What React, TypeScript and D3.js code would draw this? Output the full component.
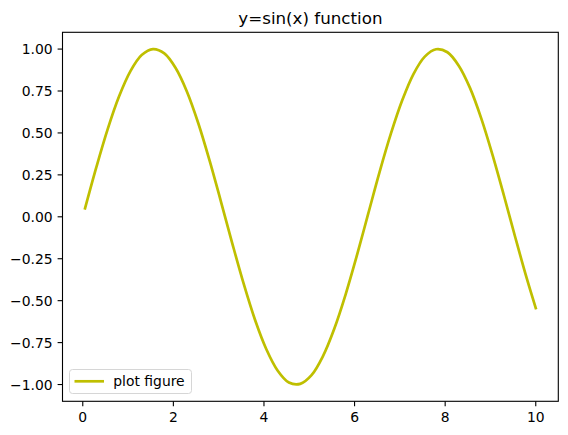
import React from "react";
import * as d3 from "d3";

const xValues = [0.05, 0.3, 0.55, 0.8, 1.05, 1.3, 1.55, 1.8, 2.05, 2.3, 2.55, 2.8, 3.05, 3.3, 3.55, 3.8, 4.05, 4.3, 4.55, 4.8, 5.05, 5.3, 5.55, 5.8, 6.05, 6.3, 6.55, 6.8, 7.05, 7.3, 7.55, 7.8, 8.05, 8.3, 8.55, 8.8, 9.05, 9.3, 9.55, 9.8, 10.0];
const yValues = [0.05, 0.296, 0.523, 0.717, 0.867, 0.964, 1.0, 0.974, 0.887, 0.746, 0.558, 0.335, 0.091, -0.158, -0.397, -0.612, -0.788, -0.916, -0.988, -0.996, -0.944, -0.832, -0.669, -0.465, -0.232, 0.017, 0.265, 0.494, 0.693, 0.851, 0.955, 0.999, 0.981, 0.901, 0.767, 0.584, 0.365, 0.124, -0.125, -0.366, -0.544];
const xTicks = [0, 2, 4, 6, 8, 10];
const yTicks = [-1.0, -0.75, -0.5, -0.25, 0.0, 0.25, 0.5, 0.75, 1.0];
const title = "y=sin(x) function";
const legendLabel = "plot figure";

const W = 568, H = 435;
const L = 62.5, R = 558.3, T = 32.3, B = 401.3;
const FONT = "DejaVu Sans, sans-serif";
const COLOR = "#bfbf00";

export default function App() {
  const x = d3.scaleLinear().domain([-0.4475, 10.4975]).range([L, R]);
  const y = d3.scaleLinear().domain([-1.1, 1.1]).range([B, T]);
  const pts = xValues.map((v, i) => [v, yValues[i]] as [number, number]);
  const line = d3.line<[number, number]>().x(d => x(d[0])).y(d => y(d[1])).curve(d3.curveCatmullRom.alpha(0.5));
  const fmt = (v: number) => (v < 0 ? "\u2212" : "") + Math.abs(v).toFixed(2);
  return (
    <svg width={W} height={H} style={{ position: "absolute", left: 0, top: 0, background: "#fff" }}>
      <rect x={0} y={0} width={W} height={H} fill="#fff" />
      <text x={(L + R) / 2} y={24} textAnchor="middle" fontFamily={FONT} fontSize={16.7} fill="#000">{title}</text>
      <path d={line(pts) || ""} fill="none" stroke={COLOR} strokeWidth={2.7} strokeLinejoin="round" strokeLinecap="square" />
      {xTicks.map(t => (
        <g key={"x" + t}>
          <line x1={x(t)} x2={x(t)} y1={B} y2={B + 4.9} stroke="#000" strokeWidth={1.1} />
          <text x={x(t)} y={B + 4.9 + 4.9 + 10.8} textAnchor="middle" fontFamily={FONT} fontSize={13.9} fill="#000">{String(t)}</text>
        </g>
      ))}
      {yTicks.map(t => (
        <g key={"y" + t}>
          <line x1={L - 4.9} x2={L} y1={y(t)} y2={y(t)} stroke="#000" strokeWidth={1.1} />
          <text x={L - 9.8} y={y(t) + 5.1} textAnchor="end" fontFamily={FONT} fontSize={13.9} fill="#000">{fmt(t)}</text>
        </g>
      ))}
      <rect x={L} y={T} width={R - L} height={B - T} fill="none" stroke="#000" strokeWidth={1.1} />
      <g>
        <rect x={69.5} y={369.5} width={122} height={24} rx={3} fill="#fff" fillOpacity={0.8} stroke="#d6d6d6" strokeWidth={1} />
        <line x1={74.5} x2={104} y1={381.3} y2={381.3} stroke={COLOR} strokeWidth={2.7} />
        <text x={113.3} y={386.2} fontFamily={FONT} fontSize={13.9} fill="#000">{legendLabel}</text>
      </g>
    </svg>
  );
}
